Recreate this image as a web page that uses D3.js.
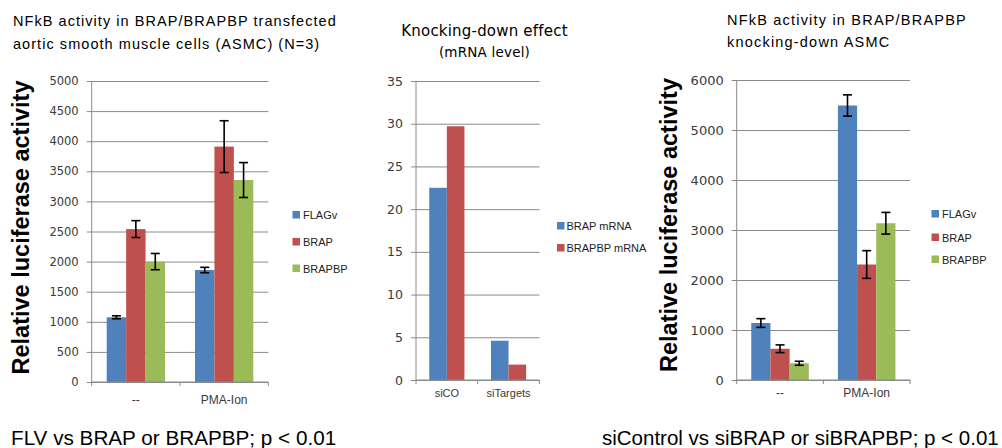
<!DOCTYPE html>
<html>
<head>
<meta charset="utf-8">
<script src="https://cdn.jsdelivr.net/npm/d3@7"></script>
<style>
  html, body { margin: 0; padding: 0; background: #fff; }
  svg { display: block; }
</style>
</head>
<body>
<svg id="fig" width="1002" height="448"></svg>
<script>
// ---- Panel A: NFkB activity, transfected ASMC ----
const aCategories = ["--", "PMA-Ion"];
const aSeries = ["FLAGv", "BRAP", "BRAPBP"];
const aFLAGv = [1075, 1860];
const aBRAP = [2540, 3910];
const aBRAPBP = [2000, 3355];
const aErrFLAGv = [25, 45];
const aErrBRAP = [140, 430];
const aErrBRAPBP = [135, 290];
const aTicks = [0, 500, 1000, 1500, 2000, 2500, 3000, 3500, 4000, 4500, 5000];

// ---- Panel B: knock-down efficiency (mRNA) ----
const bCategories = ["siCO", "siTargets"];
const bSeries = ["BRAP mRNA", "BRAPBP mRNA"];
const bBRAP = [22.5, 4.6];
const bBRAPBP = [29.7, 1.8];
const bTicks = [0, 5, 10, 15, 20, 25, 30, 35];

// ---- Panel C: NFkB activity, knock-down ASMC ----
const cCategories = ["--", "PMA-Ion"];
const cSeries = ["FLAGv", "BRAP", "BRAPBP"];
const cFLAGv = [1140, 5490];
const cBRAP = [625, 2310];
const cBRAPBP = [335, 3135];
const cErrFLAGv = [87, 213];
const cErrBRAP = [77, 277];
const cErrBRAPBP = [40, 217];
const cTicks = [0, 1000, 2000, 3000, 4000, 5000, 6000];

const palette = ["#4F81BD", "#C0504D", "#9BBB59"];
const gridColor = "#8a8a8a";
const svg = d3.select("#fig");

function panel(cfg) {
  const g = svg.append("g");
  const y = d3.scaleLinear().domain([0, cfg.max]).range([cfg.y0, cfg.y1]);
  const x0 = d3.scaleBand().domain(cfg.categories).range([cfg.x0, cfg.x1])
    .paddingInner(cfg.pad).paddingOuter(cfg.pad / 2);
  const x1 = d3.scaleBand().domain(cfg.series).range([0, x0.bandwidth()]);

  // gridlines + tick labels
  const yAxis = d3.axisLeft(y).tickValues(cfg.ticks)
    .tickSize(-(cfg.x1 - cfg.x0 + 5)).tickPadding(cfg.tickPad)
    .tickFormat(d3.format("d"));
  const ag = g.append("g").attr("transform", `translate(${cfg.x0 - 5},0)`).call(yAxis);
  ag.select(".domain").remove();
  ag.selectAll(".tick line").attr("stroke", gridColor).attr("stroke-width", 1);
  ag.selectAll(".tick text").attr("fill", "#3a3a3a")
    .style("font-family", "'DejaVu Sans', sans-serif")
    .style("font-size", cfg.tickFont + "px");

  // vertical axis line
  g.append("line").attr("x1", cfg.x0).attr("x2", cfg.x0)
    .attr("y1", cfg.y1).attr("y2", cfg.y0)
    .attr("stroke", gridColor);

  // bars
  cfg.series.forEach((s, si) => {
    const vals = cfg.values[si];
    g.selectAll(null).data(cfg.categories).enter().append("rect")
      .attr("x", c => x0(c) + x1(s))
      .attr("y", (c, i) => y(vals[i]))
      .attr("width", x1.bandwidth())
      .attr("height", (c, i) => y(0) - y(vals[i]))
      .attr("fill", palette[si]);
  });

  // error bars
  if (cfg.errors) {
    cfg.series.forEach((s, si) => {
      const vals = cfg.values[si], errs = cfg.errors[si];
      cfg.categories.forEach((c, i) => {
        const cx = x0(c) + x1(s) + x1.bandwidth() / 2;
        const hi = y(vals[i] + errs[i]), lo = y(vals[i] - errs[i]);
        const eg = g.append("g").attr("stroke", "#000").attr("stroke-width", 1.6);
        eg.append("line").attr("x1", cx).attr("x2", cx).attr("y1", hi).attr("y2", lo);
        eg.append("line").attr("x1", cx - 4.5).attr("x2", cx + 4.5).attr("y1", hi).attr("y2", hi);
        eg.append("line").attr("x1", cx - 4.5).attr("x2", cx + 4.5).attr("y1", lo).attr("y2", lo);
      });
    });
  }

  // category axis: baseline, boundary tick marks, labels
  g.append("line").attr("x1", cfg.x0).attr("x2", cfg.x1)
    .attr("y1", y(0)).attr("y2", y(0)).attr("stroke", gridColor);
  const bounds = [cfg.x0].concat(cfg.categories.map(c => x0(c) + x0.bandwidth() + x0.step() * cfg.pad / 2));
  g.selectAll(null).data(bounds).enter().append("line")
    .attr("x1", d => d).attr("x2", d => d)
    .attr("y1", y(0)).attr("y2", y(0) + 4).attr("stroke", gridColor);
  const xAxis = d3.axisBottom(x0).tickSize(0).tickPadding(0);
  const xg = g.append("g").attr("transform", `translate(0,${cfg.labelY})`).call(xAxis);
  xg.select(".domain").remove();
  xg.selectAll(".tick text").attr("fill", "#3a3a3a").attr("dy", 0)
    .style("font-family", "'Liberation Sans', Arial, sans-serif")
    .style("font-size", cfg.labelFont + "px");

  // legend
  const lg = g.append("g").attr("transform", `translate(${cfg.legX},0)`);
  cfg.series.forEach((s, si) => {
    const ly = cfg.legY[si];
    lg.append("rect").attr("x", 0).attr("y", ly - 4).attr("width", 7.5).attr("height", 7.5)
      .attr("fill", palette[si]);
    lg.append("text").attr("x", cfg.legText).attr("y", ly + 4)
      .attr("fill", "#222")
      .style("font-family", "'Liberation Sans', Arial, sans-serif")
      .style("font-size", "11px").text(s);
  });
  return g;
}

panel({
  categories: aCategories, series: aSeries,
  values: [aFLAGv, aBRAP, aBRAPBP], errors: [aErrFLAGv, aErrBRAP, aErrBRAPBP],
  ticks: aTicks, max: 5000,
  x0: 91.7, x1: 268.3, y0: 382, y1: 81, pad: 0.34,
  tickPad: 8, tickFont: 11.5, labelY: 404, labelFont: 12,
  legX: 292.5, legText: 10.5, legY: [215, 242, 268.5]
});

panel({
  categories: bCategories, series: bSeries,
  values: [bBRAP, bBRAPBP], errors: null,
  ticks: bTicks, max: 35,
  x0: 416, x1: 539.4, y0: 380, y1: 81, pad: 0.43,
  tickPad: 8, tickFont: 12.5, labelY: 397, labelFont: 11,
  legX: 557, legText: 9.5, legY: [226, 248]
});

panel({
  categories: cCategories, series: cSeries,
  values: [cFLAGv, cBRAP, cBRAPBP], errors: [cErrFLAGv, cErrBRAP, cErrBRAPBP],
  ticks: cTicks, max: 6000,
  x0: 736.7, x1: 910, y0: 380, y1: 80, pad: 0.336,
  tickPad: 8, tickFont: 13, labelY: 397, labelFont: 12,
  legX: 931.5, legText: 10.5, legY: [214, 237.5, 259.5]
});

// titles
const sans = "'Liberation Sans', Arial, sans-serif";
function textLines(x, ys, lines, size, anchor, family, spacing) {
  lines.forEach((t, i) => {
    svg.append("text").attr("x", x).attr("y", ys[i])
      .attr("text-anchor", anchor).attr("fill", "#000")
      .style("font-family", family).style("font-size", size[i] + "px")
      .style("letter-spacing", spacing + "px").text(t);
  });
}
textLines(13, [26, 49], ["NFkB activity in BRAP/BRAPBP transfected", "aortic smooth muscle cells (ASMC) (N=3)"],
  [14.5, 14.5], "start", sans, 1.05);
textLines(484.5, [36, 57], ["Knocking-down effect", "(mRNA level)"],
  [15, 13.5], "middle", "'DejaVu Sans', sans-serif", 0.2);
textLines(727, [25, 47], ["NFkB activity in BRAP/BRAPBP", "knocking-down ASMC"],
  [14.5, 14.5], "start", sans, 1.2);

// y-axis titles
[[29, 227.5], [677, 225]].forEach(([tx, ty]) => {
  svg.append("text").attr("transform", `translate(${tx},${ty}) rotate(-90)`)
    .attr("text-anchor", "middle").attr("fill", "#000")
    .style("font-family", sans).style("font-weight", "bold").style("font-size", "23.5px")
    .text("Relative luciferase activity");
});

// significance notes
svg.append("text").attr("x", 11).attr("y", 445).attr("fill", "#000")
  .style("font-family", sans).style("font-size", "20.7px")
  .text("FLV vs BRAP or BRAPBP; p < 0.01");
svg.append("text").attr("x", 602).attr("y", 445).attr("fill", "#000")
  .style("font-family", sans).style("font-size", "20.5px")
  .text("siControl vs siBRAP or siBRAPBP; p < 0.01");
</script>
</body>
</html>
